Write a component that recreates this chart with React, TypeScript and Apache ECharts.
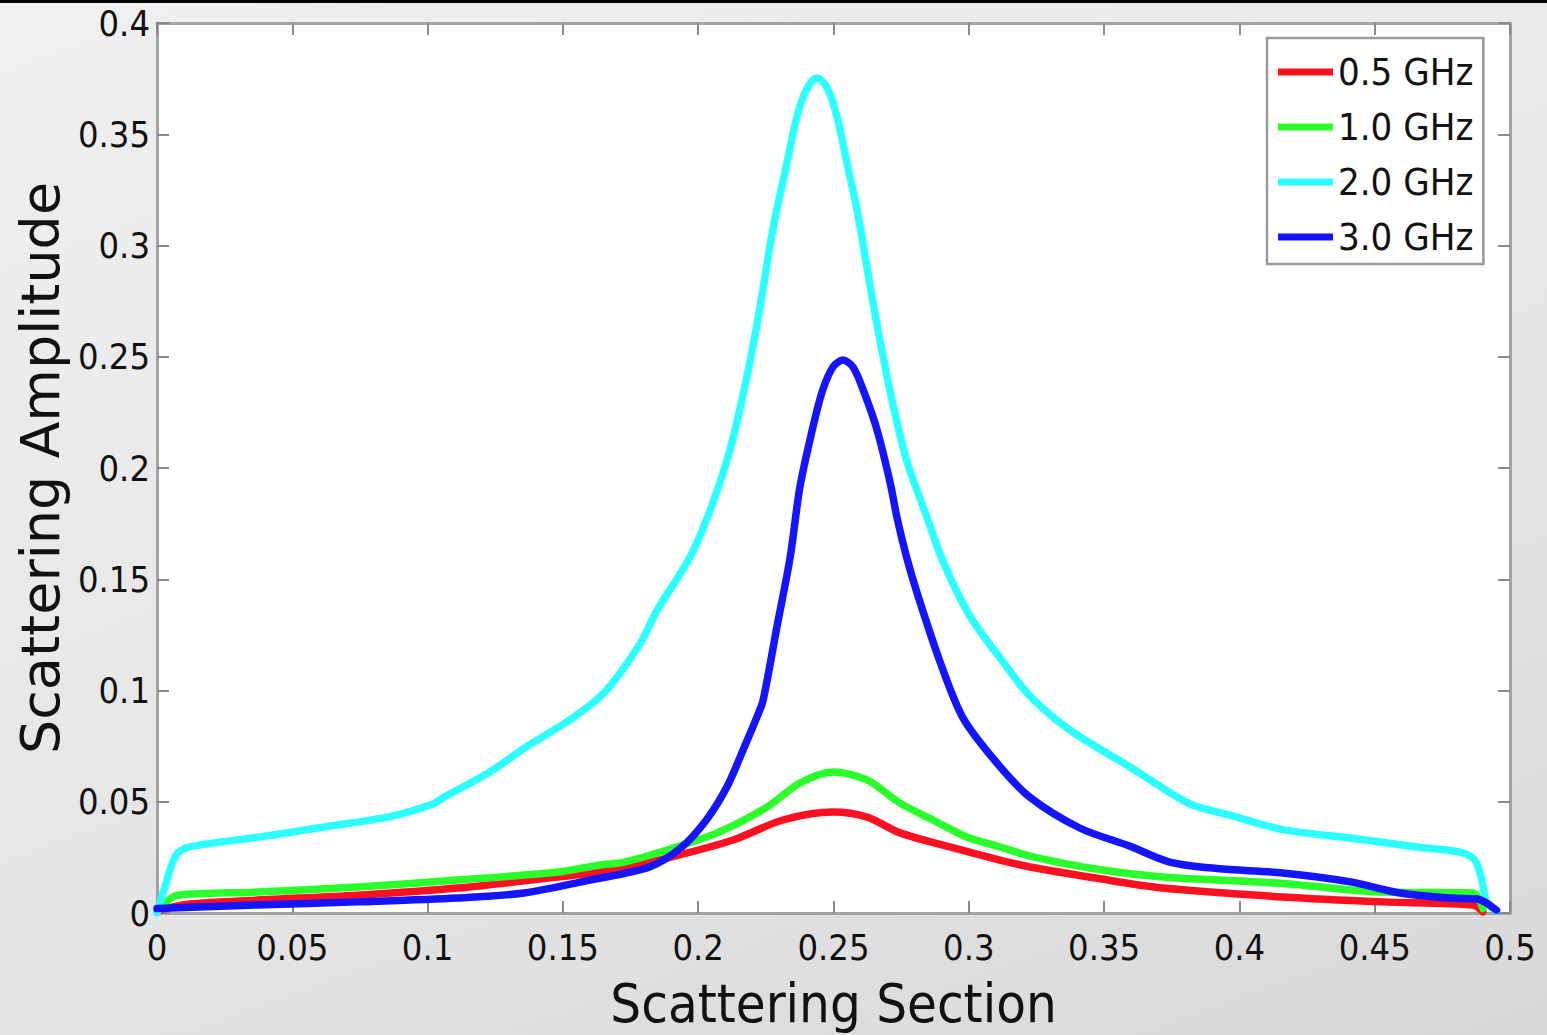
import React, { useEffect, useRef } from "react";
import * as echarts from "echarts";

// ---- data ----
const SERIES_NAMES = ["0.5 GHz", "1.0 GHz", "2.0 GHz", "3.0 GHz"];
const SERIES_COLORS = ["#ff1020", "#2bff2b", "#2bffff", "#1414ff"];

const redX = [0, 0.012, 0.037, 0.074, 0.111, 0.148, 0.1637, 0.1726, 0.1885, 0.2129, 0.2313, 0.2498, 0.2624, 0.2746, 0.293, 0.3115, 0.3226, 0.347, 0.3718, 0.416, 0.453, 0.4863, 0.49];
const redY = [0.001, 0.004, 0.0058, 0.008, 0.0112, 0.0162, 0.0184, 0.0207, 0.0247, 0.0328, 0.0418, 0.0454, 0.0431, 0.036, 0.0297, 0.0238, 0.0207, 0.0157, 0.0112, 0.0072, 0.005, 0.0036, 0.0005];

const greenX = [0, 0.003, 0.0074, 0.037, 0.074, 0.111, 0.148, 0.1637, 0.1726, 0.1885, 0.207, 0.2254, 0.2376, 0.2498, 0.2624, 0.2746, 0.2868, 0.2993, 0.3115, 0.3226, 0.347, 0.3718, 0.416, 0.453, 0.4863, 0.49];
const greenY = [0.001, 0.0045, 0.008, 0.0094, 0.0117, 0.0148, 0.0184, 0.0216, 0.0229, 0.0283, 0.036, 0.0476, 0.0584, 0.0634, 0.0598, 0.0494, 0.0418, 0.0342, 0.0297, 0.0256, 0.0198, 0.0162, 0.0133, 0.0094, 0.009, 0.002];

const cyanX = [0, 0.003, 0.007, 0.012, 0.037, 0.062, 0.086, 0.102, 0.106, 0.123, 0.1356, 0.154, 0.166, 0.1785, 0.1848, 0.197, 0.2044, 0.2117, 0.218, 0.2228, 0.2277, 0.2328, 0.2365, 0.24, 0.2439, 0.2476, 0.2513, 0.255, 0.2587, 0.2624, 0.266, 0.271, 0.277, 0.2845, 0.2905, 0.3004, 0.3127, 0.3226, 0.3374, 0.3596, 0.3817, 0.3965, 0.416, 0.441, 0.4656, 0.4815, 0.487, 0.4896, 0.4915, 0.495];
const cyanY = [0, 0.012, 0.026, 0.0297, 0.034, 0.0387, 0.0433, 0.049, 0.052, 0.0634, 0.074, 0.088, 0.1, 0.121, 0.136, 0.16, 0.181, 0.208, 0.241, 0.272, 0.308, 0.337, 0.358, 0.37, 0.3753, 0.371, 0.358, 0.337, 0.316, 0.29, 0.265, 0.234, 0.2036, 0.178, 0.158, 0.1335, 0.1128, 0.0975, 0.0822, 0.0656, 0.049, 0.044, 0.0375, 0.0337, 0.0297, 0.0274, 0.0238, 0.0148, 0.0045, 0.001];

const blueX = [0, 0.037, 0.074, 0.111, 0.1356, 0.16, 0.182, 0.194, 0.203, 0.2106, 0.2166, 0.2217, 0.224, 0.229, 0.234, 0.2376, 0.2424, 0.246, 0.2498, 0.2535, 0.2572, 0.261, 0.266, 0.271, 0.2735, 0.277, 0.281, 0.2894, 0.2979, 0.3104, 0.3226, 0.341, 0.3596, 0.3743, 0.3917, 0.416, 0.441, 0.4594, 0.4778, 0.4878, 0.495];
const blueY = [0.002, 0.0036, 0.005, 0.0067, 0.009, 0.0148, 0.0207, 0.0297, 0.0418, 0.0566, 0.0733, 0.088, 0.0957, 0.128, 0.16, 0.1915, 0.2184, 0.235, 0.2454, 0.2485, 0.2454, 0.235, 0.2175, 0.193, 0.1775, 0.16, 0.1434, 0.1128, 0.0876, 0.0674, 0.052, 0.0382, 0.03, 0.0229, 0.02, 0.018, 0.014, 0.009, 0.0067, 0.0063, 0.0013];

const SERIES_X = [redX, greenX, cyanX, blueX];
const SERIES_Y = [redY, greenY, cyanY, blueY];

const X_TICK_LABELS = ["0", "0.05", "0.1", "0.15", "0.2", "0.25", "0.3", "0.35", "0.4", "0.45", "0.5"];
const Y_TICK_LABELS = ["0", "0.05", "0.1", "0.15", "0.2", "0.25", "0.3", "0.35", "0.4"];

const X_NAME = "Scattering Section";
const Y_NAME = "Scattering Amplitude";

const COND = '"DejaVu Sans Condensed", "DejaVu Sans", sans-serif';
const AXIS_LINE = { show: true, onZero: false, lineStyle: { color: "#a3a3a3", width: 3 } };
const TICK = { show: true, inside: true, length: 12, lineStyle: { color: "#8a8a8a", width: 2 } };

export default function App() {
  const ref = useRef<HTMLDivElement>(null);
  useEffect(() => {
    document.body.style.margin = "0";
    const chart = echarts.init(ref.current!, null, { renderer: "svg" });
    const xIdx = (v: number) => Math.round(v / 0.05);
    const yIdx = (v: number) => Math.round(v / 0.05);
    const series = SERIES_NAMES.map((name, i) => ({
      name,
      type: "line",
      data: SERIES_X[i].map((x, k) => [x, SERIES_Y[i][k]]),
      showSymbol: false,
      symbol: "none",
      smooth: 0.3,
      lineStyle: { color: SERIES_COLORS[i], width: 7.5, join: "round", cap: "round" },
      itemStyle: { color: SERIES_COLORS[i] },
      z: 2 + i,
    }));
    chart.setOption({
      animation: false,
      backgroundColor: "transparent",
      grid: { left: 157, right: 37, top: 23, bottom: 122, show: true, backgroundColor: "#ffffff", borderWidth: 0 },
      legend: {
        data: SERIES_NAMES,
        orient: "vertical",
        left: 1267,
        top: 38,
        padding: [14, 10, 7, 11],
        itemGap: 15,
        itemWidth: 55,
        itemHeight: 7,
        icon: "rect",
        backgroundColor: "#ffffff",
        borderColor: "#9a9a9a",
        borderWidth: 2.5,
        borderRadius: 0,
        textStyle: { fontSize: 38, lineHeight: 40, color: "#111", fontFamily: COND },
      },
      xAxis: [
        {
          type: "value",
          min: 0,
          max: 0.5,
          interval: 0.05,
          position: "bottom",
          name: X_NAME,
          nameLocation: "middle",
          nameGap: 63,
          nameTextStyle: { fontSize: 54, color: "#111", fontFamily: COND },
          axisLine: AXIS_LINE,
          axisTick: TICK,
          splitLine: { show: false },
          axisLabel: {
            fontSize: 36,
            color: "#111",
            fontFamily: COND,
            margin: 16,
            showMinLabel: true,
            showMaxLabel: true,
            formatter: (v: number) => X_TICK_LABELS[xIdx(v)] ?? "",
          },
        },
        {
          type: "value",
          min: 0,
          max: 0.5,
          interval: 0.05,
          position: "top",
          axisLine: AXIS_LINE,
          axisTick: TICK,
          axisLabel: { show: false },
          splitLine: { show: false },
        },
      ],
      yAxis: [
        {
          type: "value",
          min: 0,
          max: 0.4,
          interval: 0.05,
          position: "left",
          name: Y_NAME,
          nameLocation: "middle",
          nameGap: 90,
          nameRotate: 90,
          nameTextStyle: { fontSize: 54, color: "#111", fontFamily: '"DejaVu Sans", sans-serif' },
          axisLine: AXIS_LINE,
          axisTick: TICK,
          splitLine: { show: false },
          axisLabel: {
            fontSize: 36,
            color: "#111",
            fontFamily: COND,
            margin: 7,
            showMinLabel: true,
            showMaxLabel: true,
            formatter: (v: number) => Y_TICK_LABELS[yIdx(v)] ?? "",
          },
        },
        {
          type: "value",
          min: 0,
          max: 0.4,
          interval: 0.05,
          position: "right",
          axisLine: AXIS_LINE,
          axisTick: TICK,
          axisLabel: { show: false },
          splitLine: { show: false },
        },
      ],
      series,
    });
    return () => chart.dispose();
  }, []);
  return (
    <div
      style={{
        position: "absolute",
        left: 0,
        top: 0,
        width: 1547,
        height: 1035,
        background: "linear-gradient(160deg, #f0f0f0 0%, #e6e6e6 55%, #d8d8d8 100%)",
        overflow: "hidden",
      }}
    >
      <div ref={ref} style={{ position: "absolute", left: 0, top: 0, width: 1547, height: 1035 }} />
      <div style={{ position: "absolute", left: 0, top: 0, width: 1547, height: 3, background: "#000" }} />
    </div>
  );
}
